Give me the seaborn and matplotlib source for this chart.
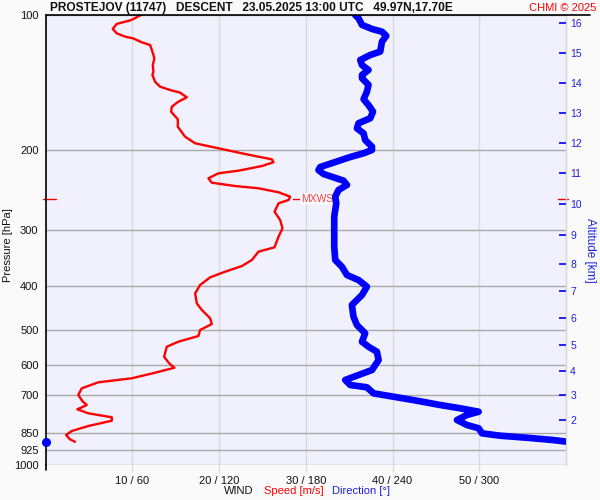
import numpy as np
import pandas as pd
import matplotlib
matplotlib.use("Agg")
import matplotlib.pyplot as plt
import seaborn as sns
from matplotlib.ticker import NullLocator, NullFormatter
from matplotlib.lines import Line2D
import matplotlib.transforms as mtransforms

sns.set_theme(style="white")
plt.rcParams['font.family'] = ['Liberation Sans', 'DejaVu Sans']

# ---- data ----
speed_pressure = [100.0, 102.6, 104.7, 107.4, 109.8, 111.7, 112.7, 115.0, 116.6, 120.6,
                  124.8, 129.2, 133.7, 135.9, 140.7, 144.3, 146.8, 148.8, 152.4, 155.8,
                  159.9, 164.0, 170.5, 177.1, 186.4, 192.8, 197.8, 203.7, 209.3, 212.4,
                  216.6, 221.8, 224.8, 230.6, 235.9, 239.9, 242.7, 247.7, 253.4, 257.7,
                  262.1, 273.6, 285.5, 297.9, 311.0, 328.3, 335.7, 350.3, 361.3, 371.9,
                  382.8, 398.1, 415.4, 437.2, 452.4, 472.1, 486.1, 501.2, 516.8, 532.1,
                  546.0, 574.6, 594.3, 607.9, 623.6, 641.7, 655.0, 675.5, 699.0, 720.9,
                  735.8, 752.1, 767.6, 783.4, 797.2, 819.1, 840.4, 857.8, 877.1, 887.9]
speed_ms = [11.0, 9.9, 8.2, 7.75, 8.2, 9.17, 10.1, 11.1, 12.06, 12.32,
            12.55, 12.37, 12.44, 12.32, 12.63, 13.21, 14.36, 15.52, 16.29, 15.32,
            14.56, 14.48, 15.25, 15.25, 16.09, 17.25, 19.94, 23.02, 26.1, 26.28,
            24.94, 22.24, 19.94, 18.78, 19.17, 21.86, 24.55, 26.86, 28.21, 28.01,
            26.86, 26.4, 27.05, 27.32, 26.86, 26.4, 24.55, 23.79, 22.64, 20.71,
            18.98, 17.82, 17.25, 17.44, 18.02, 18.98, 19.17, 17.82, 17.63, 15.32,
            13.98, 13.67, 14.25, 14.86, 12.63, 9.94, 6.09, 4.18, 3.78, 4.25,
            4.75, 3.67, 4.94, 7.64, 7.64, 4.94, 3.02, 2.37, 2.83, 3.40]

dir_pressure = [100.0, 101.7, 105.2, 107.4, 108.9, 111.3, 114.6, 120.6, 122.7, 125.9,
                129.2, 132.5, 135.9, 138.2, 143.0, 148.1, 153.9, 158.5, 164.0, 169.6,
                174.0, 178.6, 183.2, 189.6, 196.2, 199.5, 202.9, 206.8, 212.2, 217.7,
                221.1, 225.6, 233.4, 238.6, 244.8, 253.4, 262.1, 280.7, 300.5, 327.3,
                350.3, 362.6, 378.3, 388.1, 401.6, 419.0, 441.0, 468.2, 488.6, 509.8,
                532.1, 546.0, 560.2, 584.3, 615.0, 631.0, 647.3, 664.1, 672.0, 693.0,
                705.1, 719.7, 735.8, 748.2, 761.4, 774.3, 794.3, 815.0, 828.8, 850.4,
                860.9, 869.8, 880.4, 887.1, 888.0]
dir_deg = [214.2, 216.5, 218.9, 225.8, 232.7, 235.7, 232.7, 231.5, 224.6, 217.7,
           218.9, 223.4, 218.9, 218.9, 223.4, 222.3, 220.0, 223.4, 226.5, 224.6,
           216.5, 215.4, 220.0, 221.1, 225.8, 225.8, 220.0, 210.8, 200.4, 190.0,
           188.8, 192.3, 206.1, 208.5, 202.7, 200.4, 201.1, 199.7, 199.7, 199.7,
           200.4, 205.0, 208.5, 216.5, 222.3, 218.9, 211.9, 213.0, 215.4, 221.1,
           218.9, 223.4, 229.2, 230.4, 225.8, 216.5, 207.3, 210.8, 222.3, 226.9,
           240.7, 256.9, 273.1, 286.9, 299.6, 291.5, 284.6, 291.5, 299.6, 301.9,
           314.6, 333.1, 351.5, 359.9, 0.5]

pressure_ticks = [100, 200, 300, 400, 500, 600, 700, 850, 925, 1000]
wind_ticks_ms = [10, 20, 30, 40, 50]
wind_tick_labels = ["10 / 60", "20 / 120", "30 / 180", "40 / 240", "50 / 300"]
alt_km = [2, 3, 4, 5, 6, 7, 8, 9, 10, 11, 12, 13, 14, 15, 16]
alt_pressure = [794, 699, 617, 540, 471, 410, 357.6, 308.3, 263, 224.4, 192.5, 165.1, 141.6, 121.3, 104.2]
mxws_pressure = 256.0
mxws_speed = 28.2

title = "PROSTEJOV (11747)   DESCENT   23.05.2025 13:00 UTC   49.97N,17.70E"

# ---- figure ----
W, H = 600, 500
fig = plt.figure(figsize=(6, 5), dpi=100, facecolor='#fafafa')
L, R, T, B = 45.5, 566, 15, 465
ax = fig.add_axes([L / W, 1 - B / H, (R - L) / W, (B - T) / H])
ax.set_facecolor('#f1f1fd')

ax.set_yscale('log')
ax.set_ylim(1000, 100)
ax.set_xlim(0, 60)

ax.set_yticks(pressure_ticks)
ax.set_yticklabels([str(p) for p in pressure_ticks])
ax.yaxis.set_minor_locator(NullLocator())
ax.yaxis.set_minor_formatter(NullFormatter())
ax.set_xticks(wind_ticks_ms)
ax.set_xticklabels(wind_tick_labels)
ax.grid(axis='y', color='#a9a9a9', lw=1.0)
ax.grid(axis='x', color='#dadada', lw=1.0)
ax.tick_params(axis='y', length=0, pad=5, labelsize=8, labelcolor='#111111')
ax.tick_params(axis='x', length=5, width=1, color='#dadada', direction='out', pad=3,
               labelsize=8, labelcolor='#111111')
ax.set_axisbelow(True)
for s in ['top', 'bottom']:
    ax.spines[s].set_visible(False)
ax.spines['left'].set_color('black')
ax.spines['left'].set_linewidth(1.2)
ax.spines['right'].set_color('#d6d6d6')
ax.spines['right'].set_linewidth(1.0)
ax.set_xlabel('')
ax.set_ylabel('')

# speed curve
sns.lineplot(x=speed_ms, y=speed_pressure, ax=ax, sort=False, estimator=None,
             color='#ff0000', lw=1.7)

# MXWS marker
ax.plot([mxws_speed + 0.3, mxws_speed + 1.2], [mxws_pressure, mxws_pressure],
        color='#ff0000', lw=1)
ax.text(mxws_speed + 1.3, mxws_pressure, "MXWS", color='#ff4444', fontsize=7.5,
        va='center', ha='left',
        bbox=dict(boxstyle='square,pad=0.1', fc='#f8f8ff', ec='none'))
tr = mtransforms.blended_transform_factory(ax.transAxes, ax.transData)
ax.plot([-0.005, 0.021], [mxws_pressure] * 2, color='#ff0000', lw=1, transform=tr, clip_on=False)
ax.plot([0.984, 1.003], [mxws_pressure] * 2, color='#ff0000', lw=1, transform=tr, clip_on=False)

# direction curve (own axis 0-360)
ax_dir = ax.twiny()
ax_dir.set_xlim(0, 360)
ax_dir.set_xticks([])
for s in ax_dir.spines.values():
    s.set_visible(False)
d = np.array(dir_deg)
jumps = np.where(np.abs(np.diff(d)) > 180)[0]
cut = jumps[0] + 1 if len(jumps) else len(d)
sns.lineplot(x=dir_deg[:cut], y=dir_pressure[:cut], ax=ax_dir, sort=False, estimator=None,
             color='#0000ff', lw=4.8, solid_capstyle='round')
ax_dir.plot(dir_deg[cut:], dir_pressure[cut:], 'o', color='#0000ff', ms=5.5, clip_on=False)
ax_dir.set_xlabel('')
ax_dir.set_ylabel('')

# altitude axis
ax_alt = ax.twinx()
ax_alt.set_yscale('log')
ax_alt.set_ylim(1000, 100)
ax_alt.set_yticks(alt_pressure)
ax_alt.set_yticklabels([str(k) for k in alt_km])
ax_alt.yaxis.set_minor_locator(NullLocator())
ax_alt.yaxis.set_minor_formatter(NullFormatter())
ax_alt.tick_params(axis='y', direction='in', length=5, width=1.2, color='#0000ff',
                   labelcolor='#2020e0', labelsize=7.5, pad=3)
for s in ax_alt.spines.values():
    s.set_visible(False)

# header line and spine extension
fig.add_artist(Line2D([L / W, 590 / W], [1 - T / H, 1 - T / H], color='black', lw=1.2))
fig.add_artist(Line2D([L / W, L / W], [1 - B / H, 1 - 470 / H], color='black', lw=1.2))

# texts
fig.text(50 / W, 1 - 8 / H, title, fontsize=8.6, fontweight='bold', color='#111111',
         ha='left', va='center')
fig.text(596 / W, 1 - 8 / H, "CHMI © 2025", fontsize=8, color='#ff0000',
         ha='right', va='center')
fig.text(8 / W, 1 - 245 / H, "Pressure [hPa]", fontsize=8, rotation=90,
         ha='center', va='center', color='#111111')
fig.text(590 / W, 1 - 250 / H, "Altitude [km]", fontsize=8.5, rotation=270,
         ha='center', va='center', color='#2020e0')
fig.text(253 / W, 1 - 491 / H, "WIND", fontsize=8, ha='right', va='center', color='#111111')
fig.text(264 / W, 1 - 491 / H, "Speed [m/s]", fontsize=8, ha='left', va='center', color='#ff0000')
fig.text(332 / W, 1 - 491 / H, "Direction [°]", fontsize=8, ha='left', va='center', color='#2020e0')

fig.savefig("out.png", dpi=100, facecolor=fig.get_facecolor())
